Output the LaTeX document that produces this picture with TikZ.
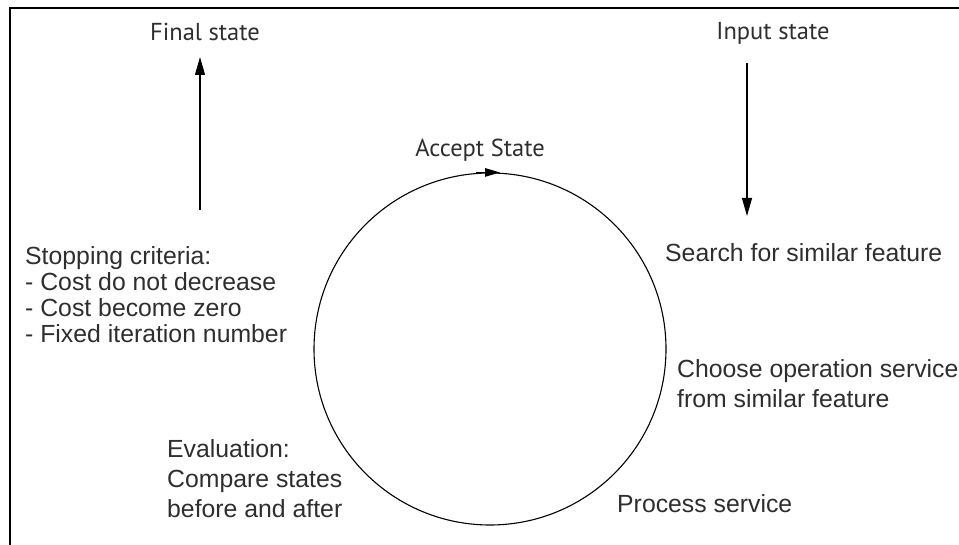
\documentclass[tikz,border=0pt]{standalone}
\usepackage{fontspec}
\setmainfont{Liberation Sans}
\newfontfamily\labelfont{PT Sans}
\usetikzlibrary{arrows.meta}
\definecolor{inkgray}{gray}{0.18}
\begin{document}
\begin{tikzpicture}[x=1pt,y=-1pt,
  frame/.style={line width=2.8pt,black},
  flow/.style={line width=1.1pt,black,-{Triangle[length=18pt,width=10pt]}},
  looparrow/.style={line width=1.1pt,black,-{Triangle[length=15pt,width=8.5pt]}},
  statelabel/.style={inner sep=0pt,anchor=base,text=inkgray,font=\labelfont\fontsize{24.5}{28}\selectfont},
  steplabel/.style={inner sep=0pt,anchor=base west,align=left,text=inkgray,font=\fontsize{24.8}{30}\selectfont},
  criteria/.style={steplabel,font=\fontsize{24.8}{26.2}\selectfont}]
  \useasboundingbox (0,0) rectangle (959,545);
  % open frame: top and left edges only
  \draw[frame] (959,8) -- (10,8) -- (10,546);

  % state labels
  \node[statelabel] (final) at (205,41) {Final state};
  \node[statelabel] (input) at (773,40) {Input state};
  \node[statelabel] (accept) at (480,157) {Accept State};

  % loop of the search
  \node[draw,circle,line width=1.1pt,minimum size=352pt,inner sep=0pt] (loop) at (490,349) {};
  \draw[looparrow] ([xshift=-14pt]loop.north) -- ([xshift=10pt]loop.north);

  % step labels around the loop (base anchor = last line)
  \node[steplabel] (search) at (665,262) {Search for similar feature};
  \node[steplabel] (choose) at (677,407) {Choose operation service\\from similar feature};
  \node[steplabel] (process) at (617,512) {Process service};
  \node[steplabel] (eval) at (167,517) {Evaluation:\\Compare states\\before and after};
  \node[criteria] (stop) at (25,343) {Stopping criteria:\\- Cost do not decrease\\- Cost become zero\\- Fixed iteration number};

  % entry and exit arrows
  \coordinate (infrom) at (747,63);
  \coordinate (into) at (747,216);
  \coordinate (outfrom) at (200,210);
  \coordinate (outto) at (200,57);
  \draw[flow] (infrom) -- (into);
  \draw[flow] (outfrom) -- (outto);
\end{tikzpicture}
\end{document}
